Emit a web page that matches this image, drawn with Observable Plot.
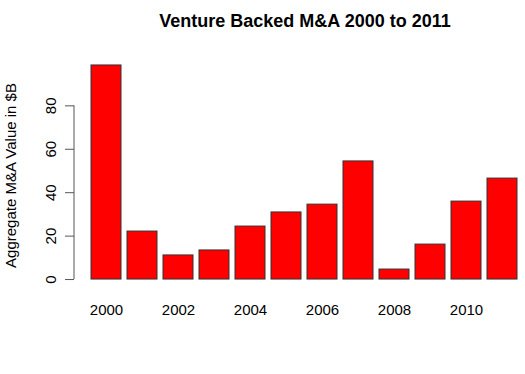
<!DOCTYPE html>
<html>
<head>
<meta charset="utf-8">
<script src="https://cdn.jsdelivr.net/npm/d3@7"></script>
<script src="https://cdn.jsdelivr.net/npm/@observablehq/plot@0.6"></script>
<style>
  html, body { margin: 0; padding: 0; background: #fff; }
  #title { height: 36px; box-sizing: border-box; padding-top: 12px; padding-left: 85px;
    font: bold 18px "Liberation Sans", Arial, sans-serif; line-height: 18px; text-align: center; color: #000; }
  svg { display: block; }
</style>
</head>
<body>
<div id="title">Venture Backed M&amp;A 2000 to 2011</div>
<div id="chart"></div>
<script>
const years = ["2000","2001","2002","2003","2004","2005","2006","2007","2008","2009","2010","2011"];
const values = [98.6, 22.1, 11.1, 13.4, 24.4, 30.9, 34.5, 54.4, 4.6, 16.1, 35.9, 46.5];
const yTicks = [0, 20, 40, 60, 80];
const xTickLabels = ["2000","2002","2004","2006","2008","2010"];
const yLabel = "Aggregate M&A Value in $B";

const data = years.map((y, i) => ({year: y, value: values[i]}));
const yMax = d3.max(values);
const font = '"Liberation Sans", Arial, sans-serif';

const axisLine = (index, scales, values, dims) => {
  const x = dims.marginLeft - 17;
  const g = d3.create("svg:line")
    .attr("x1", x).attr("x2", x)
    .attr("y1", scales.y(yTicks[0])).attr("y2", scales.y(yTicks[yTicks.length - 1]))
    .attr("stroke", "#555").attr("stroke-width", 1);
  return g.node();
};

const chart = Plot.plot({
  width: 525,
  height: 338,
  marginLeft: 91,
  marginRight: 5,
  marginTop: 20.4,
  marginBottom: 86.4,
  style: {fontFamily: font, fontSize: "15px", color: "#000", background: "#fff"},
  x: {domain: years, paddingInner: 1/6, paddingOuter: 0, align: 0},
  y: {domain: [-0.04 * yMax, 1.04 * yMax]},
  marks: [
    Plot.rectY(data, {x: "year", y: "value", fill: "#ff0000", stroke: "#333", strokeWidth: 1}),
    Plot.axisX({ticks: xTickLabels, tickSize: 0, tickPadding: 16.7, fontSize: 15, label: null}),
    Plot.axisY({ticks: yTicks, tickSize: 9, dx: -17, tickRotate: -90, tickPadding: 10, fontSize: 15, label: null, stroke: "#555"}),
    axisLine,
    Plot.text([yLabel], {frameAnchor: "left", textAnchor: "middle", dx: -80, dy: 3, rotate: -90, fontSize: 15, fill: "#000"})
  ]
});
document.getElementById("chart").appendChild(chart);
</script>
</body>
</html>
